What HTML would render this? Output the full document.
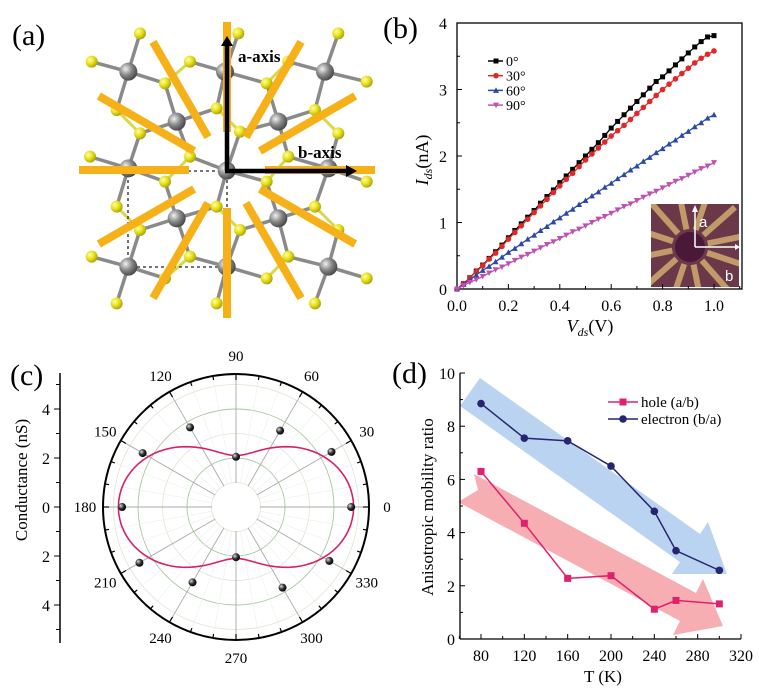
<!DOCTYPE html>
<html><head><meta charset="utf-8"><style>
body{margin:0;background:#fff}
svg{display:block;font-family:"Liberation Serif",serif}
</style></head><body>
<svg id="fig" width="759" height="695" viewBox="0 0 759 695" xmlns="http://www.w3.org/2000/svg">
<defs>
<radialGradient id="gy" cx="35%" cy="35%" r="70%"><stop offset="0" stop-color="#ffff9a"/><stop offset="0.5" stop-color="#e8e020"/><stop offset="1" stop-color="#a8a000"/></radialGradient>
<radialGradient id="gg" cx="35%" cy="35%" r="70%"><stop offset="0" stop-color="#f0f0f0"/><stop offset="0.5" stop-color="#888"/><stop offset="1" stop-color="#444"/></radialGradient>
<radialGradient id="gb" cx="35%" cy="35%" r="70%"><stop offset="0" stop-color="#ddd"/><stop offset="0.5" stop-color="#333"/><stop offset="1" stop-color="#000"/></radialGradient>
</defs>
<g id="pa"></g>
<g id="pb"></g>
<g id="pc"></g>
<g id="pd"></g>
</svg>
<script>
// ---------- Panel b data ----------
const bV = [0,0.025,0.05,0.075,0.1,0.125,0.15,0.175,0.2,0.225,0.25,0.275,0.3,0.325,0.35,0.375,0.4,0.425,0.45,0.475,0.5,0.525,0.55,0.575,0.6,0.625,0.65,0.675,0.7,0.725,0.75,0.775,0.8,0.825,0.85,0.875,0.9,0.925,0.95,0.975,1.0];
const bI0 = [0,0.08,0.17,0.27,0.36,0.46,0.56,0.66,0.77,0.88,0.98,1.08,1.18,1.29,1.39,1.49,1.60,1.70,1.80,1.90,2.00,2.10,2.20,2.31,2.42,2.52,2.62,2.72,2.82,2.92,3.02,3.12,3.19,3.28,3.37,3.46,3.55,3.64,3.72,3.79,3.81];
const bI30 = [0,0.08,0.17,0.26,0.35,0.45,0.54,0.64,0.75,0.85,0.95,1.05,1.15,1.25,1.35,1.45,1.55,1.65,1.74,1.84,1.94,2.03,2.12,2.21,2.30,2.38,2.46,2.55,2.64,2.73,2.82,2.91,3.00,3.08,3.16,3.24,3.32,3.40,3.47,3.53,3.58];
const bI60 = [0,0.07,0.14,0.21,0.28,0.34,0.41,0.48,0.55,0.61,0.68,0.75,0.81,0.88,0.94,1.01,1.07,1.14,1.20,1.27,1.33,1.40,1.46,1.53,1.59,1.66,1.72,1.79,1.85,1.92,1.98,2.05,2.11,2.18,2.24,2.31,2.37,2.44,2.50,2.57,2.62];
const bI90 = [0,0.05,0.10,0.14,0.19,0.24,0.29,0.33,0.38,0.43,0.48,0.52,0.57,0.62,0.67,0.71,0.76,0.81,0.86,0.90,0.95,1.00,1.05,1.09,1.14,1.19,1.24,1.28,1.33,1.38,1.43,1.47,1.52,1.57,1.62,1.66,1.71,1.76,1.81,1.85,1.90];
const bLabels = ["0°","30°","60°","90°"];
const bXTicks = ["0.0","0.2","0.4","0.6","0.8","1.0"];
const bYTicks = ["0","1","2","3","4"];
// ---------- Panel c data ----------
const cAngles = [0,30,60,90,120,150,180,210,240,270,300,330];
const cG = [4.7,4.5,3.6,2.05,3.75,4.4,4.65,4.55,3.55,2.05,3.8,4.4];
const cFitMax = [4.8];
const cFitMin = [2.1];
const cAngleLabels = ["0","30","60","90","120","150","180","210","240","270","300","330"];
const cRTicks = ["4","2","0","2","4"];
// ---------- Panel d data ----------
const dT = [80,120,160,200,240,260,300];
const dHole = [6.3,4.35,2.28,2.38,1.12,1.45,1.32];
const dElec = [8.85,7.55,7.45,6.5,4.8,3.32,2.58];
const dXTicks = ["80","120","160","200","240","280","320"];
const dYTicks = ["0","2","4","6","8","10"];

const NS="http://www.w3.org/2000/svg";
function mk(parent,tag,attrs,text){const e=document.createElementNS(NS,tag);for(const k in attrs)e.setAttribute(k,attrs[k]);if(text!==undefined)e.textContent=text;parent.appendChild(e);return e;}

// ================= Panel a =================
(function(){
const g=document.getElementById('pa');
const t=mk(g,'text',{x:12,y:45,'font-size':30},'(a)');


const cx=227,cy=170;
const grays=[[385,215],[675,215],[975,215],[530,365],[835,365],[385,505],[680,512],[985,505],[530,655],[835,655],[385,800],[680,800],[985,800]].map(p=>[p[0]/3,p[1]/3]);
const ys=[[420,100],[715,100],[1015,100],[275,185],[570,185],[865,185],[1100,245],[495,250],[800,250],[350,330],[650,325],[945,330],[420,400],[720,395],[1015,400],[270,470],[570,470],[865,470],[495,545],[800,545],[1100,545],[350,620],[650,620],[945,620],[420,690],[720,690],[1015,690],[275,770],[570,770],[865,770],[495,835],[800,835],[1100,835],[350,910],[650,910],[945,910]].map(p=>[p[0]/3,p[1]/3]);
const bonds=mk(g,'g',{});


ys.forEach((a,i)=>{ys.forEach((b,j)=>{const d=Math.hypot(a[0]-b[0],a[1]-b[1]);if(j>i&&d<38)mk(bonds,'line',{x1:a[0],y1:a[1],x2:b[0],y2:b[1],stroke:'#d8d84a','stroke-width':3});});});
for(const a of grays){for(const b of ys){const d=Math.hypot(a[0]-b[0],a[1]-b[1]);if(d<45)mk(bonds,'line',{x1:a[0],y1:a[1],x2:b[0],y2:b[1],stroke:'#8a8a8a','stroke-width':3.5});}}
const cell=mk(g,'path',{d:'M128,171 L227,171 L227,267 L128,267 Z',fill:'none',stroke:'#223',"stroke-width":1.3,'stroke-dasharray':'3,3'});


for(const p of ys){const c=mk(g,'circle',{cx:p[0],cy:p[1],r:6,fill:'url(#gy)'});

}
for(const p of grays){const c=mk(g,'circle',{cx:p[0],cy:p[1],r:9,fill:'url(#gg)'});

}
for(let k=0;k<12;k++){const a=k*Math.PI/6;const r1=38,r2=148;
const l=mk(g,'line',{x1:cx+r1*Math.cos(a),y1:cy-r1*Math.sin(a),x2:cx+r2*Math.cos(a),y2:cy-r2*Math.sin(a),stroke:'#f7b118','stroke-width':8});

}
const aa=mk(g,'path',{d:'M227,171 L227,44',stroke:'#000','stroke-width':4.5,fill:'none'});


mk(g,'path',{d:'M221,46 L227,36 L233,46 Z',fill:'#000'});
const ba=mk(g,'path',{d:'M225,171 L348,171',stroke:'#000','stroke-width':4.5,fill:'none'});


mk(g,'path',{d:'M346,165 L357,171 L346,177 Z',fill:'#000'});
const la=mk(g,'text',{x:238,y:62,'font-size':17,'font-weight':'bold'},'a-axis');


const lb=mk(g,'text',{x:298,y:158,'font-size':17,'font-weight':'bold'},'b-axis');


})();

// ================= Panel b =================
(function(){
const g=document.getElementById('pb');
const L=457,R=742,T=23,B=289;
const xs=v=>L+v*(714-457);
const ysc=v=>B-v*(B-T)/4;
const lab=mk(g,'text',{x:383,y:38,'font-size':30},'(b)');


const ins=mk(g,'g',{});


mk(ins,'rect',{x:651,y:204,width:88,height:83,fill:'#6a3848'});
const icx=690,icy=247;
mk(ins,'clipPath',{id:'insclip'});
const cp=document.getElementById('insclip');mk(cp,'rect',{x:651,y:204,width:88,height:83});
const fg=mk(ins,'g',{'clip-path':'url(#insclip)'});
for(let k=0;k<12;k++){const a=k*Math.PI/6+0.2;mk(fg,'line',{x1:icx+18*Math.cos(a),y1:icy-18*Math.sin(a),x2:icx+60*Math.cos(a),y2:icy-60*Math.sin(a),stroke:'#c09a68','stroke-width':6});}
mk(fg,'circle',{cx:icx,cy:icy,r:15,fill:'#4a1838'});
mk(ins,'path',{d:'M695,247 L695,210 M695,247 L737,247',stroke:'#fff','stroke-width':1.5,fill:'none'});
mk(ins,'path',{d:'M692,212 L695,205 L698,212 Z M735,244 L740,247 L735,250 Z',fill:'#fff'});
mk(ins,'text',{x:699,y:227,'font-size':15,fill:'#fff','font-family':'Liberation Sans, sans-serif'},'a');
mk(ins,'text',{x:725,y:281,'font-size':15,fill:'#fff','font-family':'Liberation Sans, sans-serif'},'b');
const fr=mk(g,'rect',{x:L,y:T,width:R-L,height:B-T,fill:'none',stroke:'#000','stroke-width':1.3});


for(let i=0;i<=11;i++){const x=xs(i*0.1);mk(g,'line',{x1:x,y1:B,x2:x,y2:B-(i%2?3:5),stroke:'#000'});}
bXTicks.forEach((s,i)=>{const t=mk(g,'text',{x:xs(i*0.2),y:311,'font-size':16,'text-anchor':'middle'},s);

});
for(let i=0;i<=8;i++){const y=ysc(i*0.5);mk(g,'line',{x1:L,y1:y,x2:L+(i%2?3:5),y2:y,stroke:'#000'});}
bYTicks.forEach((s,i)=>{const t=mk(g,'text',{x:447,y:ysc(i)+6,'font-size':16,'text-anchor':'end'},s);

});
const xl=mk(g,'text',{x:590,y:332,'font-size':18,'text-anchor':'middle'});


xl.innerHTML='<tspan font-style="italic">V</tspan><tspan font-style="italic" font-size="12" dy="4">ds</tspan><tspan dy="-4">(V)</tspan>';
const yl=mk(g,'text',{x:0,y:0,'font-size':18,'text-anchor':'middle',transform:'translate(428,160) rotate(-90)'});


yl.innerHTML='<tspan font-style="italic">I</tspan><tspan font-style="italic" font-size="12" dy="4">ds</tspan><tspan dy="-4">(nA)</tspan>';
const series=[[bI0,'#000','sq'],[bI30,'#e02828','ci'],[bI60,'#2a48a8','up'],[bI90,'#c050b0','dn']];
function marker(p,x,y,type,c){
if(type==='sq')return mk(p,'rect',{x:x-2.5,y:y-2.5,width:5,height:5,fill:c});
if(type==='ci')return mk(p,'circle',{cx:x,cy:y,r:2.8,fill:c});
if(type==='up')return mk(p,'path',{d:`M${x-3},${y+2.5} L${x+3},${y+2.5} L${x},${y-3} Z`,fill:c});
return mk(p,'path',{d:`M${x-3},${y-2.5} L${x+3},${y-2.5} L${x},${y+3} Z`,fill:c});}
series.forEach((s,k)=>{
const sg=mk(g,'g',{});


mk(sg,'polyline',{points:bV.map((v,i)=>xs(v)+','+ysc(s[0][i])).join(' '),fill:'none',stroke:s[1],'stroke-width':1.3});
bV.forEach((v,i)=>{const m=marker(sg,xs(v),ysc(s[0][i]),s[2],s[1]);

});
const ly=61+k*14.7;
const le=mk(g,'g',{});


mk(le,'line',{x1:488,y1:ly,x2:503,y2:ly,stroke:s[1],'stroke-width':1.5});
marker(le,496,ly,s[2],s[1]);
mk(le,'text',{x:506,y:ly+5,'font-size':14},bLabels[k]);
});
})();

// ================= Panel c =================
(function(){
const g=document.getElementById('pc');
const cx=236,cy=507,Ro=133,k=24.5,ri=24;
const lab=mk(g,'text',{x:10,y:385,'font-size':30},'(c)');


for(const r of [1,3,5]){mk(g,'circle',{cx,cy,r:r*k,fill:'none',stroke:'#d8e8d0','stroke-width':0.8});}
for(const r of [2,4]){mk(g,'circle',{cx,cy,r:r*k,fill:'none',stroke:'#a8c8a0','stroke-width':0.9});}
for(let a=0;a<360;a+=10){if(a%30===0)continue;const t=a*Math.PI/180;mk(g,'line',{x1:cx+ri*Math.cos(t),y1:cy-ri*Math.sin(t),x2:cx+Ro*Math.cos(t),y2:cy-Ro*Math.sin(t),stroke:'#eee','stroke-width':0.6});}
for(let a=0;a<360;a+=30){const t=a*Math.PI/180;const l=mk(g,'line',{x1:cx+ri*Math.cos(t),y1:cy-ri*Math.sin(t),x2:cx+Ro*Math.cos(t),y2:cy-Ro*Math.sin(t),stroke:'#aaa','stroke-width':0.9});

}
const oc=mk(g,'circle',{cx,cy,r:Ro,fill:'none',stroke:'#000','stroke-width':2});


for(let a=0;a<360;a+=10){const t=a*Math.PI/180;const len=a%30?4:6;mk(g,'line',{x1:cx+Ro*Math.cos(t),y1:cy-Ro*Math.sin(t),x2:cx+(Ro-len)*Math.cos(t),y2:cy-(Ro-len)*Math.sin(t),stroke:'#000','stroke-width':1.2});}
cAngles.forEach((a,i)=>{const t=a*Math.PI/180;const r=Ro+18;const tx=mk(g,'text',{x:cx+r*Math.cos(t),y:cy-r*Math.sin(t)+5,'font-size':15,'text-anchor':'middle'},cAngleLabels[i]);

});
const pts=[];for(let d=0;d<=360;d+=3){const t=d*Math.PI/180;const r=(cFitMin[0]+(cFitMax[0]-cFitMin[0])*Math.cos(t)**2)*k;pts.push((cx+r*Math.cos(t)).toFixed(1)+','+(cy-r*Math.sin(t)).toFixed(1));}
const fc=mk(g,'polyline',{points:pts.join(' '),fill:'none',stroke:'#d8206a','stroke-width':1.6});


cAngles.forEach((a,i)=>{const t=a*Math.PI/180;const r=cG[i]*k;const c=mk(g,'circle',{cx:cx+r*Math.cos(t),cy:cy-r*Math.sin(t),r:4,fill:'url(#gb)'});

});
const ax=mk(g,'line',{x1:60,y1:373,x2:60,y2:643,stroke:'#000','stroke-width':1.5});


for(let v=-5;v<=5;v++){const y=cy-v*k;mk(g,'line',{x1:60,y1:y,x2:v%2===0?54:56,y2:y,stroke:'#000'});}
cRTicks.forEach((s,i)=>{const v=4-i*2;const t=mk(g,'text',{x:50,y:cy-v*k+6,'font-size':16,'text-anchor':'end'},s);

});
const yl=mk(g,'text',{x:0,y:0,'font-size':17,'text-anchor':'middle',transform:'translate(27,480) rotate(-90)'},'Conductance (nS)');


})();

// ================= Panel d =================
(function(){
const g=document.getElementById('pd');
const xs=v=>481+(v-80)*(260/240);
const ysc=v=>639-v*26.6;
const lab=mk(g,'text',{x:392,y:383,'font-size':30},'(d)');


const ba=mk(g,'path',{d:'M480,378 L700,534 L708,522 L727,574 L672,574 L680,562 L460,406 Z',fill:'#a8c8ec','fill-opacity':0.8});


const ra=mk(g,'path',{d:'M474,474 L696,593 L703,579 L723,626 L673,635 L680,621 L458,502 L478,490 Z',fill:'#f4a0a4','fill-opacity':0.85});


mk(g,'line',{x1:460,y1:373,x2:460,y2:639,stroke:'#000','stroke-width':1.3});
mk(g,'line',{x1:460,y1:639,x2:741,y2:639,stroke:'#000','stroke-width':1.3});
for(let v=60;v<=320;v+=20){const x=xs(v);mk(g,'line',{x1:x,y1:639,x2:x,y2:639-((v-80)%40?3:5),stroke:'#000'});}
dXTicks.forEach((s,i)=>{const t=mk(g,'text',{x:xs(80+i*40),y:661,'font-size':16,'text-anchor':'middle'},s);

});
for(let v=0;v<=10;v++){const y=ysc(v);mk(g,'line',{x1:460,y1:y,x2:460+(v%2?3:5),y2:y,stroke:'#000'});}
dYTicks.forEach((s,i)=>{const t=mk(g,'text',{x:455,y:ysc(i*2)+6,'font-size':16,'text-anchor':'end'},s);

});
const xl=mk(g,'text',{x:603,y:682,'font-size':17,'text-anchor':'middle'},'T (K)');


const yl=mk(g,'text',{x:0,y:0,'font-size':17,'text-anchor':'middle',transform:'translate(433,507) rotate(-90)'},'Anisotropic mobility ratio');


const ser=[[dHole,'#e0206e','sq','hole (a/b)'],[dElec,'#262670','ci','electron (b/a)']];
ser.forEach((s,k)=>{
const sg=mk(g,'g',{});


mk(sg,'polyline',{points:dT.map((t,i)=>xs(t)+','+ysc(s[0][i])).join(' '),fill:'none',stroke:s[1],'stroke-width':1.5});
dT.forEach((t,i)=>{const m=s[2]==='sq'?mk(sg,'rect',{x:xs(t)-3.5,y:ysc(s[0][i])-3.5,width:7,height:7,fill:s[1]}):mk(sg,'circle',{cx:xs(t),cy:ysc(s[0][i]),r:3.8,fill:s[1]});

});
const ly=402+k*17;
const le=mk(g,'g',{});


mk(le,'line',{x1:608,y1:ly,x2:638,y2:ly,stroke:s[1],'stroke-width':1.5});
if(s[2]==='sq')mk(le,'rect',{x:619.5,y:ly-3.5,width:7,height:7,fill:s[1]});else mk(le,'circle',{cx:623,cy:ly,r:3.8,fill:s[1]});
mk(le,'text',{x:641,y:ly+5,'font-size':15},s[3]);
});
})();
</script>
</body></html>
